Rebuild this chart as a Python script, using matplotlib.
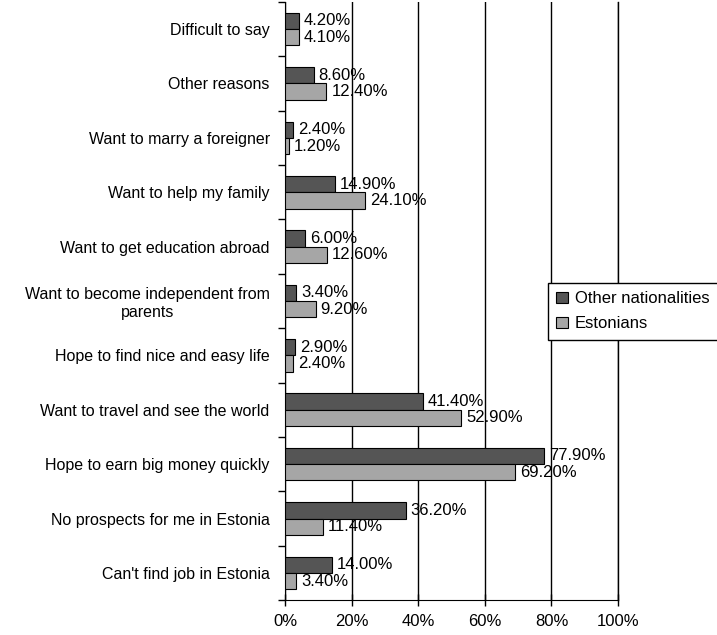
import matplotlib.pyplot as plt
import numpy as np

plt.rcParams['font.family'] = ['Liberation Sans', 'DejaVu Sans']

# categories listed from top to bottom
reasons = [
    "Difficult to say",
    "Other reasons",
    "Want to marry a foreigner",
    "Want to help my family",
    "Want to get education abroad",
    "Want to become independent from\nparents",
    "Hope to find nice and easy life",
    "Want to travel and see the world",
    "Hope to earn big money quickly",
    "No prospects for me in Estonia",
    "Can't find job in Estonia",
]
other_nat = [4.2, 8.6, 2.4, 14.9, 6.0, 3.4, 2.9, 41.4, 77.9, 36.2, 14.0]
estonians = [4.1, 12.4, 1.2, 24.1, 12.6, 9.2, 2.4, 52.9, 69.2, 11.4, 3.4]

fig = plt.figure(figsize=(7.17, 6.35), dpi=100)
ax = fig.add_axes([0.3975, 0.055, 0.4645, 0.942])

n = len(reasons)
y = np.arange(n)[::-1]
h = 0.30

ax.barh(y + h / 2, other_nat, height=h, color='#555555', edgecolor='black',
        linewidth=0.8, label='Other nationalities', zorder=3)
ax.barh(y - h / 2, estonians, height=h, color='#a6a6a6', edgecolor='black',
        linewidth=0.8, label='Estonians', zorder=3)

for yi, a, b in zip(y, other_nat, estonians):
    ax.text(a + 1.5, yi + h / 2, f"{a:.2f}%", va='center', ha='left', fontsize=12, zorder=4)
    ax.text(b + 1.5, yi - h / 2, f"{b:.2f}%", va='center', ha='left', fontsize=12, zorder=4)

ax.set_xlim(0, 100)
ax.set_ylim(-0.5, n - 0.5)
ax.set_xticks(np.arange(0, 101, 20))
ax.set_xticklabels([f"{v}%" for v in range(0, 101, 20)], fontsize=12)
ax.xaxis.grid(True, color='black', linewidth=1, zorder=0)

# category labels centred between boundary ticks
ax.set_yticks(np.arange(-0.5, n, 1.0))
ax.set_yticklabels([])
ax.set_yticks(y, minor=True)
ax.set_yticklabels(reasons, minor=True, fontsize=11.5, ha='right', multialignment='center')
ax.tick_params(axis='y', which='minor', length=0, pad=11)
ax.tick_params(axis='y', which='major', length=5, width=1)
ax.tick_params(axis='x', direction='inout', length=8, width=1, pad=6)

ax.spines['top'].set_visible(False)
ax.spines['right'].set_linewidth(1)

ax.legend(loc='center left', bbox_to_anchor=(0.79, 0.4825), fontsize=12,
          frameon=True, fancybox=False, edgecolor='black', framealpha=1,
          handlelength=0.7, handleheight=0.7, handletextpad=0.4,
          labelspacing=0.6, borderpad=0.5, borderaxespad=0)

fig.savefig('out.png', dpi=100)
